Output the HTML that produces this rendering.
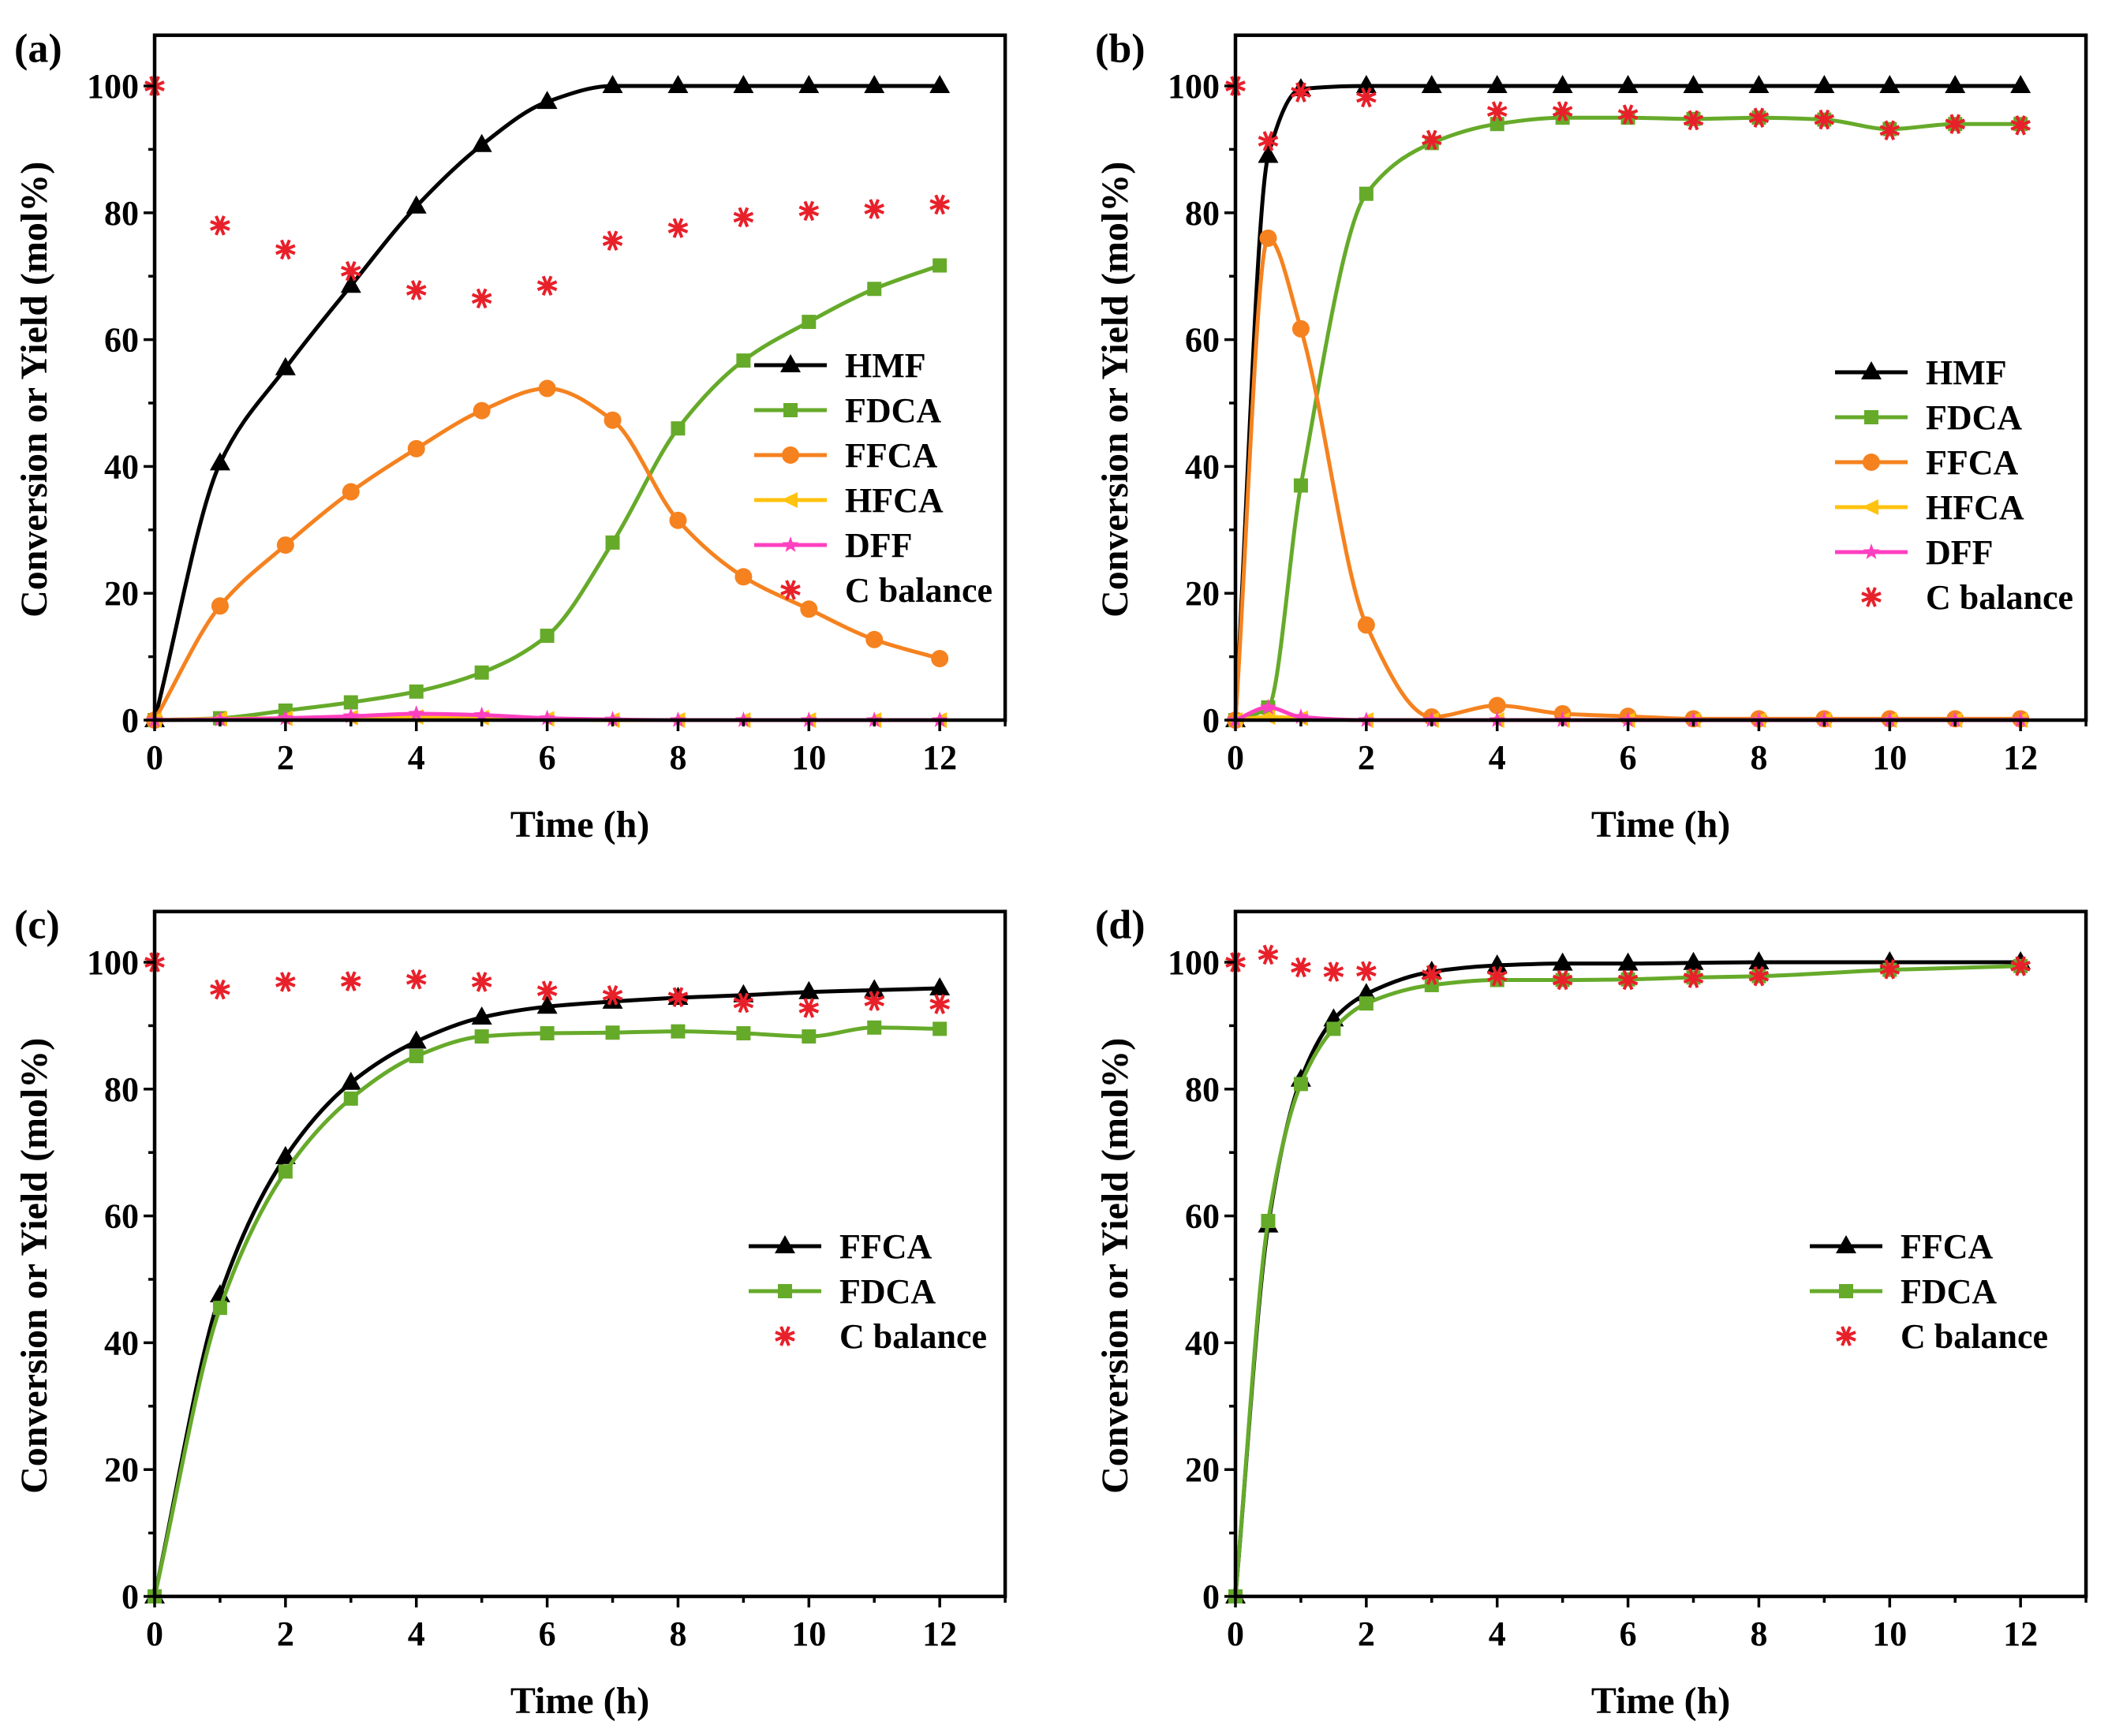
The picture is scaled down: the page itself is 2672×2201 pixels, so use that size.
<!DOCTYPE html>
<html><head><meta charset="utf-8"><style>
html,body{margin:0;padding:0;background:#fff}
svg{display:block}
text{font-family:"Liberation Serif",serif;font-weight:bold;fill:#000}
</style></head><body>
<svg id="fig" width="2672" height="2201" viewBox="0 0 2672 2201" xmlns="http://www.w3.org/2000/svg"></svg>
<script>
// ---- data ----
const xA = [0,1,2,3,4,5,6,7,8,9,10,11,12];
const hmfA = [0,40.5,55.5,68.5,81,90.7,97.5,100,100,100,100,100,100];
const fdcaA = [0,0.3,1.5,2.8,4.5,7.5,13.3,28,46,56.7,62.8,68,71.7];
const ffcaA = [0,18,27.6,36,42.8,48.8,52.3,47.3,31.5,22.6,17.5,12.7,9.7];
const hfcaA = [0,0.2,0.3,0.4,0.5,0.4,0.2,0,0,0,0,0,0];
const dffA = [0,0.1,0.3,0.6,1,0.8,0.3,0.1,0,0,0,0,0];
const cbalA = [100,78,74.2,70.8,67.8,66.5,68.5,75.6,77.6,79.3,80.3,80.6,81.3];

const xB = [0,0.5,1,2,3,4,5,6,7,8,9,10,11,12];
const hmfB = [0,89,99.5,100,100,100,100,100,100,100,100,100,100,100];
const fdcaB = [0,2,37,83,91,94,95,95,94.8,95,94.7,93.2,94,94];
const ffcaB = [0,76,61.7,15,0.5,2.3,1,0.6,0.2,0.2,0.2,0.2,0.2,0.2];
const hfcaB = [0,0.5,0.3,0,0,0,0,0,0,0,0,0,0,0];
const dffB = [0,2,0.5,0,0,0,0,0,0,0,0,0,0,0];
const cbalB = [100,91.3,99,98.2,91.5,96,96,95.5,94.6,95,94.7,93,94,93.8];

const xC = [0,1,2,3,4,5,6,7,8,9,10,11,12];
const ffcaC = [0,47.5,69.3,81,87.5,91.3,93,93.8,94.4,94.8,95.3,95.6,95.9];
const fdcaC = [0,45.5,67,78.5,85.2,88.3,88.8,88.9,89.1,88.8,88.3,89.7,89.5];
const cbalC = [100,95.7,96.9,97,97.3,96.9,95.5,94.8,94.5,93.6,92.8,93.9,93.4];

const xD = [0,0.5,1,1.5,2,3,4,5,6,7,8,10,12];
const ffcaD = [0,58.5,81.5,91,95,98.5,99.5,99.8,99.8,99.9,100,100,100];
const fdcaD = [0,59.2,80.8,89.5,93.5,96.4,97.2,97.2,97.3,97.6,97.8,98.8,99.4];
const cbalD = [100,101.2,99.2,98.5,98.6,98,97.8,97.2,97.2,97.5,97.8,98.9,99.4];

const xTicks = [0,2,4,6,8,10,12];
const yTicks = [0,20,40,60,80,100];

const COL = {black:'#000', green:'#66aa2a', orange:'#f5821f', yellow:'#ffc20e', pink:'#ff40c0', red:'#e8202a'};
const NS = 'http://www.w3.org/2000/svg';
const svg = document.getElementById('fig');
function mk(tag, attrs, parent){ const e=document.createElementNS(NS,tag); for(const k in attrs) e.setAttribute(k,attrs[k]); (parent||svg).appendChild(e); return e; }

// monotone cubic (Fritsch-Carlson) in pixel space
function spline(pts){
  const n=pts.length, dx=[], m=[], t=new Array(n);
  for(let i=0;i<n-1;i++){ dx.push(pts[i+1][0]-pts[i][0]); m.push((pts[i+1][1]-pts[i][1])/dx[i]); }
  t[0]=m[0]; t[n-1]=m[n-2];
  for(let i=1;i<n-1;i++){ if(m[i-1]*m[i]<=0) t[i]=0; else { const w1=2*dx[i]+dx[i-1], w2=dx[i]+2*dx[i-1]; t[i]=(w1+w2)/(w1/m[i-1]+w2/m[i]); } }
  let d='M'+pts[0][0].toFixed(1)+','+pts[0][1].toFixed(1);
  for(let i=0;i<n-1;i++){
    const h=dx[i]/3;
    d+=' C'+(pts[i][0]+h).toFixed(1)+','+(pts[i][1]+t[i]*h).toFixed(1)+' '+(pts[i+1][0]-h).toFixed(1)+','+(pts[i+1][1]-t[i+1]*h).toFixed(1)+' '+pts[i+1][0].toFixed(1)+','+pts[i+1][1].toFixed(1);
  }
  return d;
}
function marker(g, type, x, y, color){
  let e;
  if(type==='tri') e=mk('polygon',{points:`${x},${y-14} ${x-13},${y+9} ${x+13},${y+9}`,fill:color},g);
  else if(type==='sq') e=mk('rect',{x:x-9,y:y-9,width:18,height:18,fill:color},g);
  else if(type==='circ') e=mk('circle',{cx:x,cy:y,r:11,fill:color},g);
  else if(type==='ltri') e=mk('polygon',{points:`${x-12},${y} ${x+9},${y-10} ${x+9},${y+10}`,fill:color},g);
  else if(type==='star'){
    let p=''; for(let i=0;i<10;i++){const r=i%2?4.5:11,a=-Math.PI/2+i*Math.PI/5;p+=(x+r*Math.cos(a)).toFixed(1)+','+(y+r*Math.sin(a)).toFixed(1)+' ';}
    e=mk('polygon',{points:p,fill:color},g);
  } else if(type==='ast'){
    e=mk('g',{stroke:color,'stroke-width':4},g);
    for(let i=0;i<4;i++){const a=i*Math.PI/4+Math.PI/8,r=13;mk('line',{x1:x-r*Math.cos(a),y1:y-r*Math.sin(a),x2:x+r*Math.cos(a),y2:y+r*Math.sin(a)},e);}
  }
  
  
}

function panel(id, label, x0, y0, series, legend){
  const xu=82.93, yu=8.04;
  const sx=v=>x0+v*xu, sy=v=>y0-v*yu;
  const g=mk('g',{});
  
  
  const left=sx(0), right=sx(13), top=sy(108), bot=sy(0);
  series.forEach(s=>{
    const sg=mk('g',{},g);
    
    
    const pts=s.x.map((xv,i)=>[sx(xv),sy(s.y[i])]);
    if(s.line){ const p=mk('path',{d:spline(pts),fill:'none',stroke:s.color,'stroke-width':5},sg);
      
       }
    pts.forEach(p=>marker(sg,s.m,p[0],p[1],s.color));
  });
  const fr=mk('rect',{x:left,y:top,width:right-left,height:bot-top,fill:'none',stroke:'#000','stroke-width':4.5},g);
  
  
  for(let v=0;v<=13;v++){ const major=v%2===0; mk('line',{x1:sx(v),y1:bot,x2:sx(v),y2:bot+(major?14:8),stroke:'#000','stroke-width':3.5},g); }
  xTicks.forEach(v=>{ const t=mk('text',{x:sx(v),y:bot+62,'font-size':44,'text-anchor':'middle'},g); t.textContent=v;
    
     });
  for(let v=0;v<=100;v+=10){ const major=v%20===0; mk('line',{x1:left,y1:sy(v),x2:left-(major?14:8),y2:sy(v),stroke:'#000','stroke-width':3.5},g); }
  yTicks.forEach(v=>{ const t=mk('text',{x:left-20,y:sy(v)+15,'font-size':44,'text-anchor':'end'},g); t.textContent=v;
    
     });
  const xt=mk('text',{x:(left+right)/2,y:bot+148,'font-size':48,'text-anchor':'middle'},g); xt.textContent='Time (h)';
  
  
  const yc=(top+bot)/2+15, yx=left-137;
  const yt=mk('text',{x:yx,y:yc,'font-size':48,'text-anchor':'middle',transform:`rotate(-90 ${yx} ${yc})`},g); yt.textContent='Conversion or Yield (mol%)';
  
  
  const pl=mk('text',{x:left-178,y:top+34,'font-size':52},g); pl.textContent=label;
  
  
  const lg=mk('g',{},g);
  
  
  series.forEach((s,i)=>{
    const yy=legend.y+i*57, lx=legend.x;
    const eg=mk('g',{},lg);
    
    
    if(s.line) mk('line',{x1:lx,y1:yy,x2:lx+92,y2:yy,stroke:s.color,'stroke-width':5},eg);
    marker(eg,s.m,lx+46,yy,s.color);
    const t=mk('text',{x:lx+115,y:yy+15,'font-size':44},eg); t.textContent=s.name;
  });
}

panel('a','(a)',196,913,[
  {name:'HMF',x:xA,y:hmfA,color:COL.black,m:'tri',line:true},
  {name:'FDCA',x:xA,y:fdcaA,color:COL.green,m:'sq',line:true},
  {name:'FFCA',x:xA,y:ffcaA,color:COL.orange,m:'circ',line:true},
  {name:'HFCA',x:xA,y:hfcaA,color:COL.yellow,m:'ltri',line:true},
  {name:'DFF',x:xA,y:dffA,color:COL.pink,m:'star',line:true},
  {name:'C balance',x:xA,y:cbalA,color:COL.red,m:'ast',line:false}
],{x:956,y:463});
panel('b','(b)',1566,913,[
  {name:'HMF',x:xB,y:hmfB,color:COL.black,m:'tri',line:true},
  {name:'FDCA',x:xB,y:fdcaB,color:COL.green,m:'sq',line:true},
  {name:'FFCA',x:xB,y:ffcaB,color:COL.orange,m:'circ',line:true},
  {name:'HFCA',x:xB,y:hfcaB,color:COL.yellow,m:'ltri',line:true},
  {name:'DFF',x:xB,y:dffB,color:COL.pink,m:'star',line:true},
  {name:'C balance',x:xB,y:cbalB,color:COL.red,m:'ast',line:false}
],{x:2326,y:472});
panel('c','(c)',196,2024,[
  {name:'FFCA',x:xC,y:ffcaC,color:COL.black,m:'tri',line:true},
  {name:'FDCA',x:xC,y:fdcaC,color:COL.green,m:'sq',line:true},
  {name:'C balance',x:xC,y:cbalC,color:COL.red,m:'ast',line:false}
],{x:949,y:1580});
panel('d','(d)',1566,2024,[
  {name:'FFCA',x:xD,y:ffcaD,color:COL.black,m:'tri',line:true},
  {name:'FDCA',x:xD,y:fdcaD,color:COL.green,m:'sq',line:true},
  {name:'C balance',x:xD,y:cbalD,color:COL.red,m:'ast',line:false}
],{x:2294,y:1580});
</script>
</body></html>
